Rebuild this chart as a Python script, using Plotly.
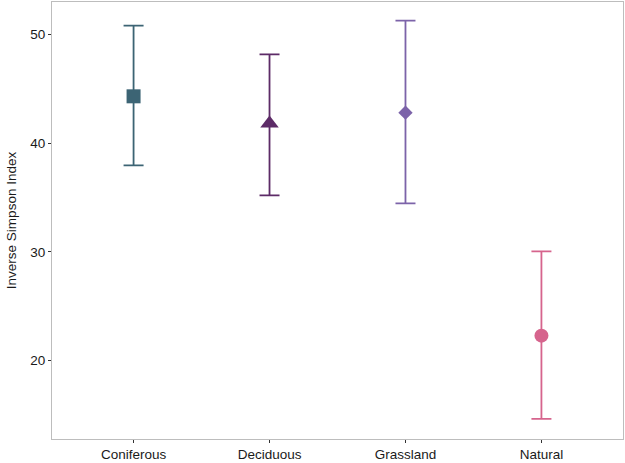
import plotly.graph_objects as go

categories = ["Coniferous", "Deciduous", "Grassland", "Natural"]
means = [44.3, 41.8, 42.8, 22.3]
upper = [50.8, 48.15, 51.25, 30.05]
lower = [37.95, 35.2, 34.45, 14.65]
colors = ["#3c6474", "#5d2b67", "#7c63a9", "#d6648d"]
symbols = ["square", "triangle-up", "diamond", "circle"]
sizes = [14, 16, 11, 14]

fig = go.Figure()
for i, c in enumerate(categories):
    fig.add_trace(go.Scatter(
        x=[c], y=[means[i]], mode="markers",
        marker=dict(symbol=symbols[i], size=sizes[i], color=colors[i]),
        error_y=dict(type="data", symmetric=False,
                     array=[upper[i] - means[i]], arrayminus=[means[i] - lower[i]],
                     color=colors[i], thickness=1.8, width=10),
        showlegend=False,
    ))

font_family = "Liberation Sans, Arial"
axis_common = dict(showline=True, mirror=True, linecolor="#bdbdbd", linewidth=1,
                   showgrid=False, zeroline=False, ticks="outside", ticklen=3,
                   tickcolor="#333333", tickfont=dict(family=font_family, size=13.5, color="#1a1a1a"))
fig.update_layout(
    width=625, height=463,
    margin=dict(l=52, r=2, t=1, b=20),
    plot_bgcolor="white", paper_bgcolor="white",
    xaxis=dict(type="category", categoryorder="array", categoryarray=categories,
               range=[-0.6, 3.6], **axis_common),
    yaxis=dict(range=[12.8, 52.97], tickvals=[20, 30, 40, 50],
               title=dict(text="Inverse Simpson Index", font=dict(family=font_family, size=13.5, color="#1a1a1a"), standoff=10),
               **axis_common),
)
fig.write_html("out.html", config={"displayModeBar": False},
               post_script="document.body.style.margin='0';")
